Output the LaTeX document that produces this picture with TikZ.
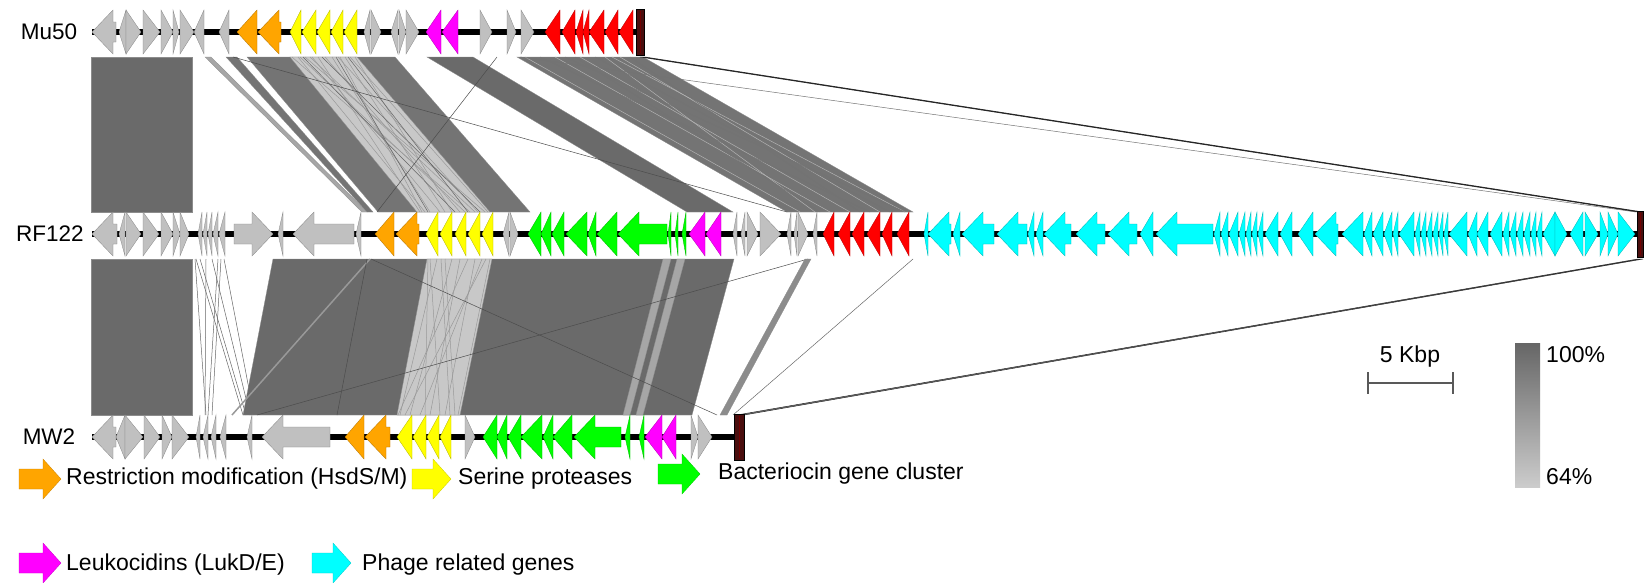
\documentclass[tikz,border=0pt]{standalone}
\usepackage{fontspec}
\setmainfont{Liberation Sans}
\definecolor{ggray}{HTML}{C0C0C0}
\definecolor{gorange}{HTML}{FFA500}
\definecolor{gyellow}{HTML}{FFFF00}
\definecolor{ggreen}{HTML}{00FF00}
\definecolor{gmag}{HTML}{FF00FF}
\definecolor{gred}{HTML}{FF0000}
\definecolor{gcyan}{HTML}{00FFFF}
\definecolor{brownend}{HTML}{4A0E0E}
\definecolor{cmpdark}{HTML}{6A6A6A}
\definecolor{cmpmid}{HTML}{747474}
\definecolor{cmplight}{HTML}{C8C8C8}
\newcommand\drawgene[5]{%
  \pgfmathsetmacro\gh{min(21,#3-#2)}%
  \pgfmathsetmacro\gtip{#4>0 ? #3 : #2}%
  \pgfmathsetmacro\gtail{#4>0 ? #2 : #3}%
  \pgfmathsetmacro\gbase{\gtip-(#4)*\gh}%
  \filldraw[fill=#5, draw=#5!70!black, line width=0.3pt] (\gtip,#1) -- (\gbase,#1+22) -- (\gbase,#1+10) -- (\gtail,#1+10) -- (\gtail,#1-10) -- (\gbase,#1-10) -- (\gbase,#1-22) -- cycle;%
}
\newcommand\legarrow[4]{%
  \filldraw[fill=#4, draw=#4!80!black, line width=0.3pt] (#1,#3+10) -- (#2-18,#3+10) -- (#2-18,#3+20) -- (#2,#3) -- (#2-18,#3-20) -- (#2-18,#3-10) -- (#1,#3-10) -- cycle;%
}
\tikzset{
  cmp/.style={fill=#1, draw=black!45, line width=0.3pt},
  thinln/.style={draw=black!70, line width=0.5pt},
  lightln/.style={draw=black!40, line width=0.5pt},
  lbl/.style={font=\fontsize{22.5}{26}\selectfont, inner sep=0pt},
  legtxt/.style={font=\fontsize{23}{28}\selectfont, inner sep=0pt, anchor=west},
  scaletxt/.style={font=\fontsize{23}{27}\selectfont, inner sep=0pt},
  backbone/.style={line width=6pt, black}
}
\begin{document}
\begin{tikzpicture}[x=1pt,y=1pt]
\useasboundingbox (0,0) rectangle (1644,-582);
\fill[white] (0,0) rectangle (1644,-582);

% ---------- comparisons Mu50 - RF122 ----------
\path[cmp=cmpdark] (91,-57) -- (192,-57) -- (192,-212) -- (91,-212) -- cycle;
\path[cmp=black!35] (205,-57) -- (211,-57) -- (367,-212) -- (362,-212) -- cycle;
\path[cmp=cmpmid] (226,-57) -- (237,-57) -- (373,-212) -- (367,-212) -- cycle;
\path[cmp=cmpmid] (247,-57) -- (395,-57) -- (530,-212) -- (378,-212) -- cycle;
\path[cmp=cmplight] (290,-57) -- (357,-57) -- (490,-212) -- (417,-212) -- cycle;
\foreach \ta/\tb in {292/470,298/425,305/485,312/440,318/420,325/460,332/430,338/478,345/445,350/488,355/452,300/465,310/475,340/422}
  \draw[lightln] (\ta,-57) -- (\tb,-212);
\foreach \ta/\tb in {303/455,322/480,336/428,348/468}
  \draw[thinln, draw=black!60] (\ta,-57) -- (\tb,-212);
\path[cmp=cmpdark] (427,-57) -- (473,-57) -- (733,-212) -- (687,-212) -- cycle;
\path[cmp=cmpmid] (517,-57) -- (643,-57) -- (913,-212) -- (787,-212) -- cycle;
\foreach \ta/\tb in {525/800,555/830,580/850,605/815,620/880,612/905}
  \draw[lightln, draw=black!30] (\ta,-57) -- (\tb,-212);
\foreach \ta/\tb in {540/870,565/905,595/890,630/860,575/820}
  \draw[thinln, draw=black!55] (\ta,-57) -- (\tb,-212);
\draw[thinln] (233,-57) -- (787,-212);
\draw[thinln] (497,-57) -- (377,-212);
\draw[thinln, draw=black!55] (520,-57) -- (1636,-212);
\filldraw[fill=black!45, draw=black!85, line width=0.5pt] (640,-57) -- (645,-57) -- (1643,-212) -- (1638,-212) -- cycle;

% ---------- comparisons RF122 - MW2 ----------
\path[cmp=cmpdark] (91,-259) -- (192,-259) -- (192,-415) -- (91,-415) -- cycle;
\foreach \ta/\tb in {195/206,200/246,206/205,212/250,218/208,224/254,196/243,221/212}
  \draw[thinln, draw=black!60] (\ta,-259) -- (\tb,-415);
\path[cmp=cmpdark] (273,-259) -- (734,-259) -- (692,-415) -- (243,-415) -- cycle;
\path[cmp=cmplight] (427,-259) -- (492,-259) -- (460,-415) -- (397,-415) -- cycle;
\foreach \ta/\tb in {430/440,437/400,445/455,452/410,460/430,468/398,475/445,482/420,490/458,428/425,486/405,441/450}
  \draw[lightln] (\ta,-259) -- (\tb,-415);
\path[cmp=black!35] (663,-259) -- (671,-259) -- (630,-415) -- (623,-415) -- cycle;
\path[cmp=black!35] (677,-259) -- (685,-259) -- (643,-415) -- (636,-415) -- cycle;
\draw[draw=black!40, line width=1.5pt] (370,-259) -- (232,-415);
\draw[thinln] (367,-259) -- (337,-415);
\draw[thinln] (257,-415) -- (808,-259);
\draw[thinln] (371,-259) -- (717,-415);
\path[cmp=black!45] (805,-259) -- (811,-259) -- (727,-415) -- (720,-415) -- cycle;
\draw[thinln, draw=black!60] (913,-259) -- (733,-415);
\filldraw[fill=black!45, draw=black!85, line width=0.5pt] (737,-415) -- (744,-415) -- (1643,-259) -- (1638,-259) -- cycle;

% ---------- backbones ----------
\draw[backbone] (92,-32) -- (636,-32);
\draw[backbone] (92,-234) -- (1637,-234);
\draw[backbone] (92,-437) -- (734,-437);

% ---------- Mu50 genes ----------
\foreach \ga/\gb/\gd/\gc in {92/116/-1/ggray, 119/126/-1/ggray, 126/141/1/ggray, 143/160/1/ggray, 161/173/1/ggray, 173/179/1/ggray, 180/194/1/ggray, 194/204/-1/ggray, 219/229/-1/ggray, 237/257/-1/gorange, 258/281/-1/gorange, 290/301/-1/gyellow, 302/316/-1/gyellow, 317/330/-1/gyellow, 331/343/-1/gyellow, 344/357/-1/gyellow, 364/370/-1/ggray, 371/381/1/ggray, 391/398/-1/ggray, 399/406/1/ggray, 406/419/1/ggray, 426/441/-1/gmag, 442/458/-1/gmag, 480/492/1/ggray, 507/516/1/ggray, 521/534/1/ggray, 545/560/-1/gred, 562/575/-1/gred, 576/583/-1/gred, 583/589/-1/gred, 589/604/-1/gred, 605/618/-1/gred, 619/633/-1/gred}
  {\drawgene{-32}{\ga}{\gb}{\gd}{\gc}}

% ---------- RF122 genes ----------
\foreach \ga/\gb/\gd/\gc in {92/117/-1/ggray, 119/125/-1/ggray, 126/141/1/ggray, 143/159/1/ggray, 161/173/1/ggray, 173/180/1/ggray, 180/189/1/ggray, 198/202/-1/ggray, 203/207/-1/ggray, 208/212/-1/ggray, 213/218/-1/ggray, 219/225/-1/ggray, 234/273/1/ggray, 278/283/-1/ggray, 293/354/-1/ggray, 356/361/-1/ggray, 375/394/-1/gorange, 396/419/-1/gorange, 426/438/-1/gyellow, 440/452/-1/gyellow, 455/466/-1/gyellow, 468/480/-1/gyellow, 482/493/-1/gyellow, 503/509/-1/ggray, 510/518/1/ggray, 528/541/-1/ggreen, 541/551/-1/ggreen, 552/564/-1/ggreen, 566/587/-1/ggreen, 588/596/-1/ggreen, 597/617/-1/ggreen, 618/667/-1/ggreen, 668/671/-1/ggreen, 675/678/-1/ggreen, 682/686/-1/ggreen, 689/705/-1/gmag, 706/721/-1/gmag, 733/737/-1/ggray, 741/745/-1/ggray, 747/758/1/ggray, 760/781/1/ggray, 787/791/-1/ggray, 794/797/-1/ggray, 798/808/1/ggray, 813/817/-1/ggray, 823/834/-1/gred, 838/850/-1/gred, 852/864/-1/gred, 867/880/-1/gred, 882/892/-1/gred, 897/909/-1/gred}
  {\drawgene{-234}{\ga}{\gb}{\gd}{\gc}}
\foreach \ga/\gb/\gd in {924/928/-1, 928/951/-1, 953/960/-1, 962/994/-1, 997/1027/-1, 1028/1034/-1, 1036/1043/-1, 1044/1071/-1, 1076/1105/-1, 1108/1137/-1, 1140/1153/-1, 1156/1213/-1, 1214/1220/-1, 1221/1228/-1, 1229/1238/-1, 1239/1245/-1, 1246/1251/-1, 1252/1257/-1, 1258/1263/-1, 1265/1278/-1, 1280/1292/-1, 1298/1313/-1, 1315/1338/-1, 1342/1363/-1, 1364/1372/-1, 1373/1383/-1, 1384/1392/-1, 1393/1398/-1, 1399/1414/-1, 1415/1420/-1, 1421/1426/-1, 1427/1432/-1, 1433/1438/-1, 1439/1443/-1, 1444/1448/-1, 1449/1467/-1, 1468/1477/-1, 1477/1488/-1, 1490/1502/-1, 1503/1509/-1, 1510/1516/-1, 1517/1523/-1, 1524/1530/-1, 1531/1536/-1, 1537/1542/-1, 1543/1555/-1, 1555/1567/1, 1570/1583/-1, 1585/1598/1, 1600/1608/1, 1608/1618/1, 1618/1635/1}
  {\drawgene{-234}{\ga}{\gb}{\gd}{gcyan}}

% ---------- MW2 genes ----------
\foreach \ga/\gb/\gd/\gc in {92/116/-1/ggray, 116/125/-1/ggray, 125/143/1/ggray, 144/160/1/ggray, 162/172/1/ggray, 172/189/1/ggray, 196/200/-1/ggray, 203/208/-1/ggray, 211/216/-1/ggray, 220/226/-1/ggray, 247/252/-1/ggray, 262/330/-1/ggray, 345/364/-1/gorange, 365/390/-1/gorange, 397/412/-1/gyellow, 413/426/-1/gyellow, 427/439/-1/gyellow, 440/451/-1/gyellow, 465/475/1/ggray, 483/497/-1/ggreen, 497/507/-1/ggreen, 508/521/-1/ggreen, 521/542/-1/ggreen, 543/553/-1/ggreen, 553/572/-1/ggreen, 574/621/-1/ggreen, 625/630/-1/ggreen, 639/644/-1/ggreen, 645/662/-1/gmag, 662/676/-1/gmag, 691/698/1/ggray, 698/712/1/ggray}
  {\drawgene{-437}{\ga}{\gb}{\gd}{\gc}}

% ---------- end markers ----------
\filldraw[fill=brownend, draw=black, line width=0.4pt] (636,-9) rectangle (644,-55);
\draw[red!45!black, line width=0.6pt] (640,-11) -- (640,-53);
\filldraw[fill=brownend, draw=black, line width=0.4pt] (1637,-211) rectangle (1643,-257);
\draw[red!45!black, line width=0.6pt] (1640,-213) -- (1640,-255);
\filldraw[fill=brownend, draw=black, line width=0.4pt] (734,-414) rectangle (744,-460);
\draw[red!45!black, line width=0.6pt] (739,-416) -- (739,-458);

% ---------- track labels ----------
\node[lbl] (mu) at (49,-32) {Mu50};
\node[lbl] (rf) at (50,-234) {RF122};
\node[lbl] (mw) at (49,-437) {MW2};

% ---------- scale bar and identity key ----------
\node[scaletxt] (kbp) at (1410,-357) {5 Kbp};
\draw[black!65, line width=1.2pt] (1368,-383) -- (1453,-383);
\draw[black!65, line width=1.2pt] (1368,-372) -- (1368,-394);
\draw[black!65, line width=1.2pt] (1453,-372) -- (1453,-394);
\shade[top color=black!60, bottom color=black!20] (1515,-343) rectangle (1540,-487);
\node[scaletxt, anchor=west] (hi) at (1546,-355) {100\%};
\node[scaletxt, anchor=west] (lo) at (1546,-477) {64\%};

% ---------- legend ----------
\legarrow{19}{61}{-479}{gorange}
\node[legtxt] (l1) at (66,-479) {Restriction modification (HsdS/M)};
\legarrow{412}{451}{-479}{gyellow}
\node[legtxt] (l2) at (458,-479) {Serine proteases};
\legarrow{658}{700}{-474}{ggreen}
\node[legtxt] (l3) at (718,-474) {Bacteriocin gene cluster};
\legarrow{19}{61}{-563}{gmag}
\node[legtxt] (l4) at (66,-565) {Leukocidins (LukD/E)};
\legarrow{312}{351}{-563}{gcyan}
\node[legtxt] (l5) at (362,-565) {Phage related genes};
\end{tikzpicture}
\end{document}
